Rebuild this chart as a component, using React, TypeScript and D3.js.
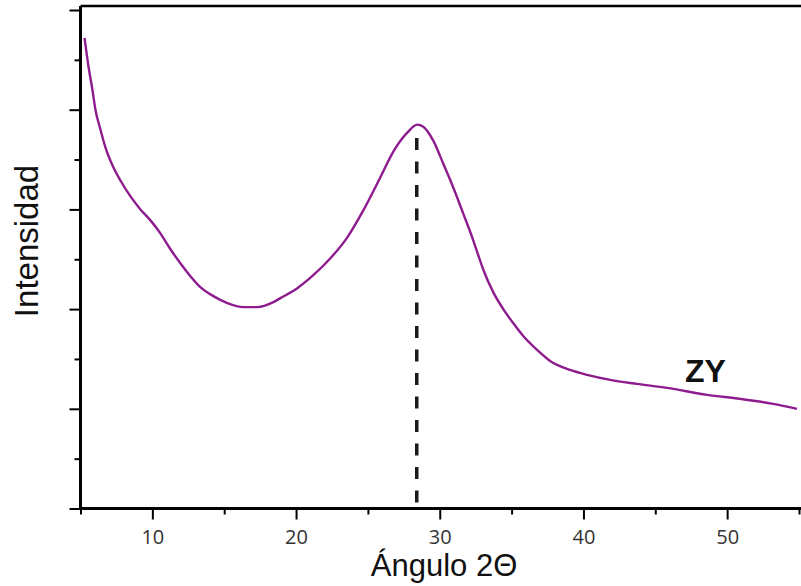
import React, { useEffect, useRef } from "react";
import * as d3 from "d3";

// diffractogram (2θ in degrees, intensity in arbitrary units)
const angle = [
  5.28, 5.56, 5.83, 6.04, 6.39, 6.74, 7.23, 7.78, 8.48, 9.17, 9.87, 10.56, 11.26,
  11.95, 12.65, 13.34, 14.25, 15.22, 16.34, 17.31, 18.42, 18.91, 20.09, 21.2,
  22.39, 23.57, 24.68, 25.86, 26.77, 27.74, 28.44, 28.85, 29.55, 30.24, 30.94,
  31.63, 32.33, 32.68, 33.02, 33.72, 34.42, 35.11, 35.81, 36.78, 37.68, 39.07,
  40.26, 41.86, 43.73, 45.82, 48.6, 50.9, 53.19, 54.86,
];
const intensity = [
  4.72, 4.43, 4.2, 4.0, 3.8, 3.62, 3.44, 3.29, 3.13, 3.0, 2.89, 2.76, 2.6,
  2.46, 2.33, 2.22, 2.13, 2.06, 2.02, 2.02, 2.07, 2.11, 2.21, 2.34,
  2.51, 2.72, 2.99, 3.32, 3.58, 3.77, 3.85, 3.83, 3.69, 3.46, 3.22,
  2.96, 2.69, 2.54, 2.4, 2.17, 2.0, 1.86, 1.73, 1.59, 1.48, 1.39,
  1.34, 1.29, 1.25, 1.21, 1.14, 1.1, 1.05, 1.0,
];
const xMajor = [10, 20, 30, 40, 50];
const xMinor = [5, 15, 25, 35, 45, 55];
const yMajor = [0, 1, 2, 3, 4, 5];
const yMinor = [0.5, 1.5, 2.5, 3.5, 4.5];
const peakAngle = 28.4;
const peakTop = 3.79;
const sampleName = "ZY";

const W = 801;
const H = 586;
const left = 80.5;
const right = 799;
const top = 10;
const bottom = 508.5;

const App = () => {
  const ref = useRef<SVGSVGElement>(null);

  useEffect(() => {
    const svg = d3.select(ref.current);
    svg.selectAll("*").remove();

    const x = d3.scaleLinear().domain([5, 55]).range([left, right]);
    const y = d3.scaleLinear().domain([0, 5]).range([bottom, top]);

    // frame top line
    svg.append("line")
      .attr("x1", left).attr("x2", W)
      .attr("y1", 6).attr("y2", 6)
      .attr("stroke", "#000").attr("stroke-width", 2.5);

    // x axis: major with labels, minor without
    const gx = svg.append("g").attr("transform", `translate(0,${bottom})`);
    gx.call(d3.axisBottom(x).tickValues(xMajor).tickSize(11).tickSizeOuter(0).tickPadding(10.5))
      .call((g) => g.select(".domain").remove());
    gx.selectAll("text")
      .attr("font-family", "'Open Sans', sans-serif")
      .attr("font-size", 20)
      .attr("fill", "#333");
    gx.selectAll("line").attr("stroke-width", 2);
    const gxm = svg.append("g").attr("transform", `translate(0,${bottom})`);
    gxm.call(d3.axisBottom(x).tickValues(xMinor).tickSize(6).tickFormat(() => ""))
      .call((g) => g.select(".domain").remove());
    gxm.selectAll("line").attr("stroke-width", 2);

    // y axis: ticks only
    const gy = svg.append("g").attr("transform", `translate(${left},0)`);
    gy.call(d3.axisLeft(y).tickValues(yMajor).tickSize(11).tickFormat(() => ""))
      .call((g) => g.select(".domain").remove());
    gy.selectAll("line").attr("stroke-width", 2);
    const gym = svg.append("g").attr("transform", `translate(${left},0)`);
    gym.call(d3.axisLeft(y).tickValues(yMinor).tickSize(6).tickFormat(() => ""))
      .call((g) => g.select(".domain").remove());
    gym.selectAll("line").attr("stroke-width", 2);

    // axis lines
    svg.append("line")
      .attr("x1", left).attr("x2", left)
      .attr("y1", 6).attr("y2", bottom + 1.5)
      .attr("stroke", "#000").attr("stroke-width", 3);
    svg.append("line")
      .attr("x1", left - 1.5).attr("x2", W)
      .attr("y1", bottom).attr("y2", bottom)
      .attr("stroke", "#000").attr("stroke-width", 3);

    // dashed peak marker
    svg.append("line")
      .attr("x1", x(peakAngle)).attr("x2", x(peakAngle))
      .attr("y1", bottom - 6).attr("y2", y(peakTop))
      .attr("stroke", "#1a1a1a").attr("stroke-width", 3.5)
      .attr("stroke-dasharray", "12,11.5");

    // pattern
    const pts = angle.map((a, i) => [a, intensity[i]] as [number, number]);
    const line = d3.line<[number, number]>()
      .x((d) => x(d[0]))
      .y((d) => y(d[1]))
      .curve(d3.curveMonotoneX);
    svg.append("path")
      .datum(pts)
      .attr("d", line)
      .attr("fill", "none")
      .attr("stroke", "#8e1c8e")
      .attr("stroke-width", 2.4)
      .attr("stroke-linejoin", "round");

    // sample label
    svg.append("text")
      .attr("x", 685).attr("y", 382)
      .attr("font-family", "'Liberation Sans', Arial, sans-serif")
      .attr("font-weight", "bold")
      .attr("font-size", 32)
      .attr("fill", "#111")
      .text(sampleName);

    // axis titles
    svg.append("text")
      .attr("x", 444).attr("y", 576)
      .attr("text-anchor", "middle")
      .attr("font-family", "'Liberation Sans', Arial, sans-serif")
      .attr("font-size", 31)
      .attr("fill", "#111")
      .text("Ángulo 2Θ");
    svg.append("text")
      .attr("transform", "translate(38,241) rotate(-90)")
      .attr("text-anchor", "middle")
      .attr("font-family", "'Liberation Sans', Arial, sans-serif")
      .attr("font-size", 33)
      .attr("fill", "#111")
      .text("Intensidad");
  }, []);

  return (
    <div style={{ position: "absolute", left: 0, top: 0 }}>
      <svg ref={ref} width={W} height={H} style={{ display: "block", background: "#fff" }} />
    </div>
  );
};

export default App;
